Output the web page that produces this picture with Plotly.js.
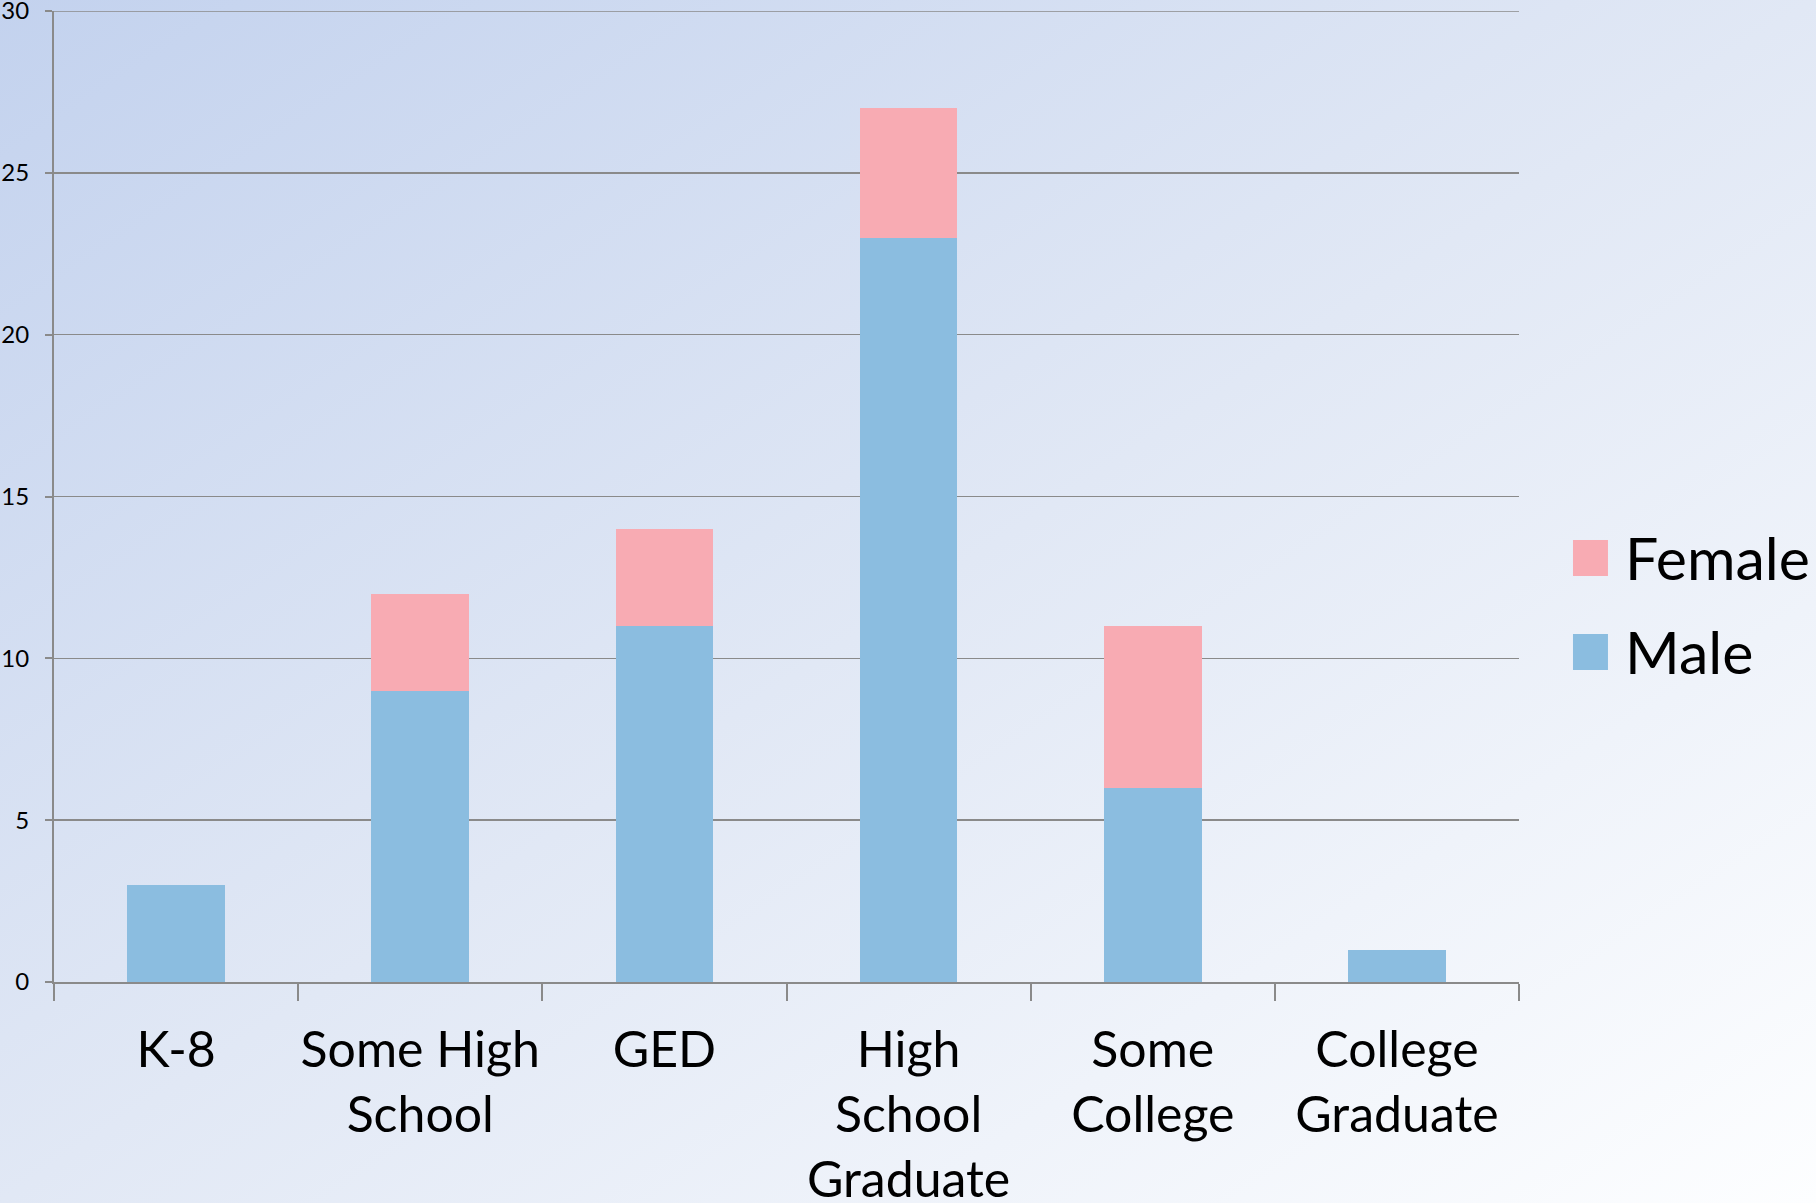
<!DOCTYPE html>
<html>
<head>
<meta charset="utf-8">
<script src="https://cdn.plot.ly/plotly-3.0.1.min.js"></script>
<style>
  html, body { margin: 0; padding: 0; }
  #chart {
    width: 1816px; height: 1203px;
    background: linear-gradient(to bottom right, #c3d2ee 0%, #e1e8f5 50%, #fdfeff 100%);
  }
</style>
</head>
<body>
<div id="chart"></div>
<script>
const categories = ["K-8", "Some High<br>School", "GED", "High<br>School<br>Graduate", "Some<br>College", "College<br>Graduate"];
const maleValues = [3, 9, 11, 23, 6, 1];
const femaleValues = [0, 3, 3, 4, 5, 0];
const seriesNames = ["Male", "Female"];
const seriesColors = ["#8bbde0", "#f8abb3"];
const yTicks = [0, 5, 10, 15, 20, 25, 30];

const traces = [
  { type: "bar", name: seriesNames[0], x: categories, y: maleValues,
    marker: { color: seriesColors[0], line: { width: 0 } }, showlegend: false, hoverinfo: "x+y+name" },
  { type: "bar", name: seriesNames[1], x: categories, y: femaleValues,
    marker: { color: seriesColors[1], line: { width: 0 } }, showlegend: false, hoverinfo: "x+y+name" }
];

// manual legend (Female on top, Male below), positioned in paper coordinates
const W = 1816, H = 1203;
const mL = 53.5, mR = 297, mT = 11, mB = 221;
const pw = W - mL - mR, ph = H - mT - mB;
const px = v => (v - mL) / pw;
const py = v => (H - mB - v) / ph;
const legendItems = [
  { name: seriesNames[1], color: seriesColors[1], top: 540 },
  { name: seriesNames[0], color: seriesColors[0], top: 634 }
];
const shapes = [], annotations = [];
legendItems.forEach(it => {
  shapes.push({ type: "rect", xref: "paper", yref: "paper",
    x0: px(1573), x1: px(1608), y0: py(it.top + 36), y1: py(it.top),
    fillcolor: it.color, line: { width: 0 } });
  annotations.push({ xref: "paper", yref: "paper", x: px(1623), y: py(it.top + 17),
    xanchor: "left", yanchor: "middle", text: it.name, showarrow: false,
    font: { family: "Lato, sans-serif", size: 59, color: "#000" } });
});
// top gridline + tick at the upper end of the value axis (Plotly skips the grid line on the range edge)
const yMax = yTicks[yTicks.length - 1];
shapes.push({ type: "line", xref: "paper", yref: "y", x0: px(46), x1: 1, y0: yMax, y1: yMax,
  line: { color: "#8a8a8a", width: 1.5 }, layer: "below" });

const layout = {
  width: W, height: H,
  margin: { l: mL, r: mR, t: mT, b: mB, pad: 0 },
  paper_bgcolor: "rgba(0,0,0,0)",
  plot_bgcolor: "rgba(0,0,0,0)",
  barmode: "stack",
  bargap: 0.6,
  showlegend: false,
  font: { family: "Lato, sans-serif", color: "#000" },
  xaxis: {
    type: "category",
    showline: true, linecolor: "#8a8a8a", linewidth: 2,
    ticks: "outside", tickson: "boundaries", ticklen: 17, tickwidth: 2, tickcolor: "#8a8a8a",
    showgrid: false, zeroline: false,
    tickfont: { family: "Lato, sans-serif", size: 50, color: "#000" },
    tickangle: 0,
    ticklabelstandoff: 23
  },
  yaxis: {
    range: [0, yMax], tickvals: yTicks,
    showline: true, linecolor: "#8a8a8a", linewidth: 2,
    ticks: "outside", ticklen: 7, tickwidth: 2, tickcolor: "#8a8a8a",
    showgrid: true, gridcolor: "#8a8a8a", gridwidth: 1.5,
    zeroline: false,
    tickfont: { family: "Lato, sans-serif", size: 24, color: "#000" },
    ticklabelstandoff: 11,
    ticklabeloverflow: "allow"
  },
  shapes: shapes,
  annotations: annotations
};

Plotly.newPlot("chart", traces, layout, { displayModeBar: false, staticPlot: true });
</script>
</body>
</html>
